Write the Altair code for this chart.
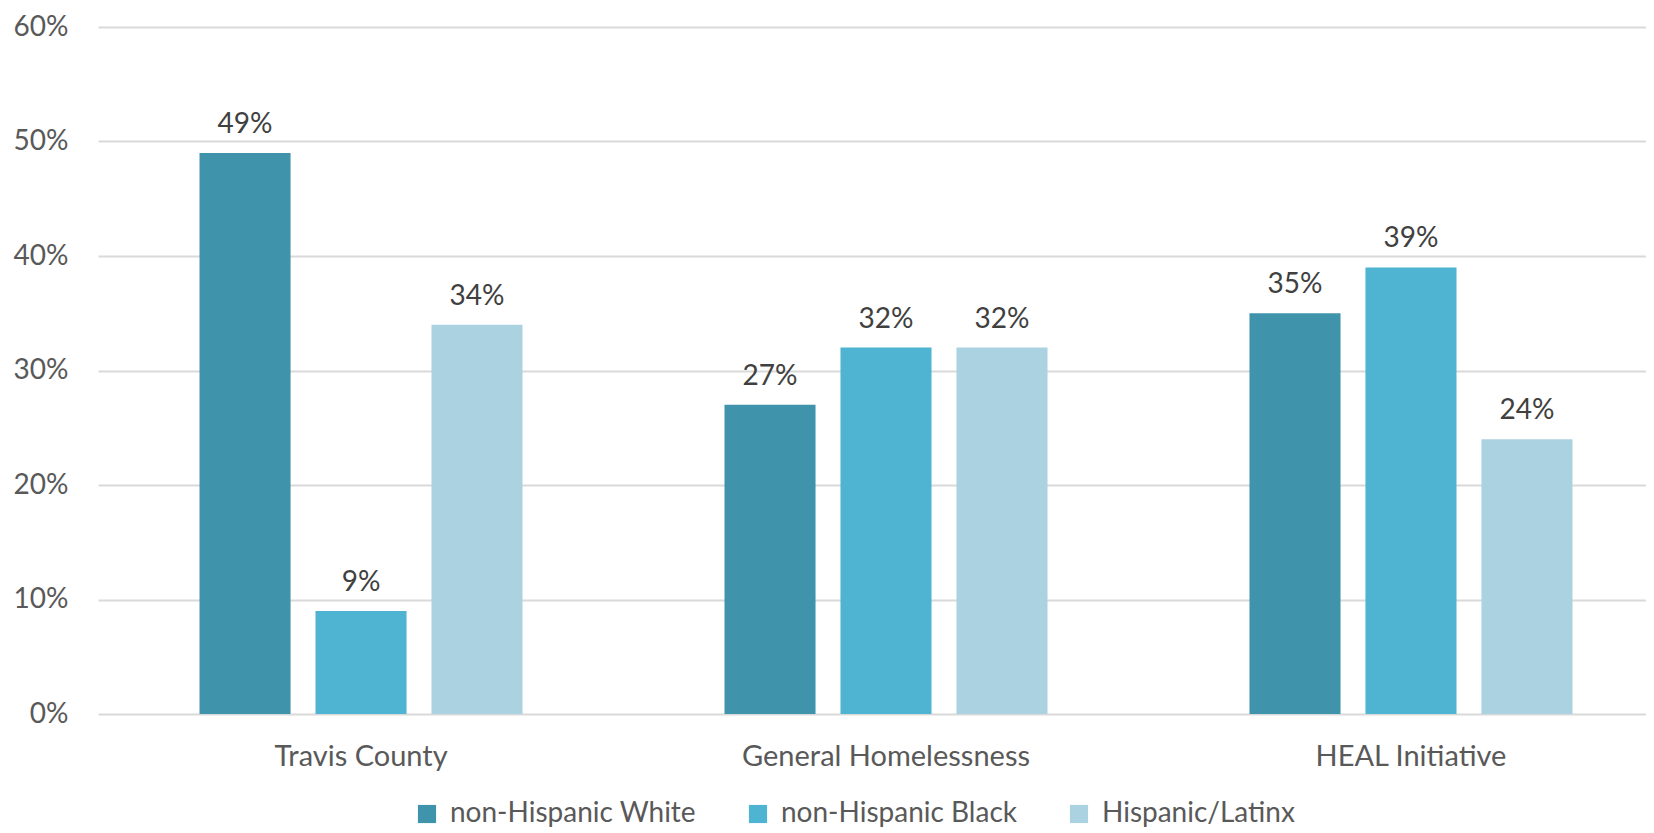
import altair as alt
import pandas as pd

categories = ["Travis County", "General Homelessness", "HEAL Initiative"]
groups = ["non-Hispanic White", "non-Hispanic Black", "Hispanic/Latinx"]
white = [0.49, 0.27, 0.35]
black = [0.09, 0.32, 0.39]
hispanic = [0.34, 0.32, 0.24]
colors = ["#3F93AB", "#4FB3D2", "#ABD2E1"]

rows = []
for i, c in enumerate(categories):
    for g, vals in zip(groups, [white, black, hispanic]):
        rows.append({"category": c, "group": g, "value": vals[i]})
df = pd.DataFrame(rows)

FONT = "Lato"
FS = 28

x = alt.X("category:N", sort=categories, title=None,
          scale=alt.Scale(range=[0, 1576], paddingInner=0.337, paddingOuter=0.1695),
          axis=alt.Axis(labelAngle=0, ticks=False, domain=False, labelPadding=28,
                        labelFontSize=29, labelColor="#595959", labelFont=FONT,
                        labelLimit=0))
xoff = alt.XOffset("group:N", sort=groups,
                   scale=alt.Scale(paddingInner=0.215, paddingOuter=0.108))
y = alt.Y("value:Q", title=None,
          scale=alt.Scale(domain=[0, 0.6], nice=False),
          axis=alt.Axis(format=".0%", values=[0, 0.1, 0.2, 0.3, 0.4, 0.5, 0.6],
                        domain=False, ticks=False, labelPadding=30,
                        labelFontSize=FS, labelColor="#595959", labelFont=FONT,
                        gridColor="#D9D9D9", gridWidth=2))
color = alt.Color("group:N", sort=groups, title=None,
                  scale=alt.Scale(domain=groups, range=colors),
                  legend=alt.Legend(orient="none", legendX=315, legendY=773,
                                    direction="horizontal",
                                    symbolType="square", symbolSize=330,
                                    symbolStrokeWidth=0, labelFontSize=FS,
                                    labelColor="#595959", labelFont=FONT,
                                    labelLimit=0,
                                    columnPadding=48, labelOffset=9))

bars = alt.Chart(df).mark_bar().encode(x=x, xOffset=xoff, y=y, color=color)
labels = alt.Chart(df).mark_text(baseline="alphabetic", dy=-20, fontSize=FS,
                                 font=FONT, color="#404040").encode(
    x=x, xOffset=xoff, y=y, text=alt.Text("value:Q", format=".0%"))

chart = (bars + labels).properties(
    width=1548, height=687,
    autosize=alt.AutoSizeParams(type="none"),
    padding={"left": 90, "top": 19, "right": 0, "bottom": 118},
).configure_view(stroke=None)

chart.save("out.html", embed_options={"renderer": "svg", "actions": False})
